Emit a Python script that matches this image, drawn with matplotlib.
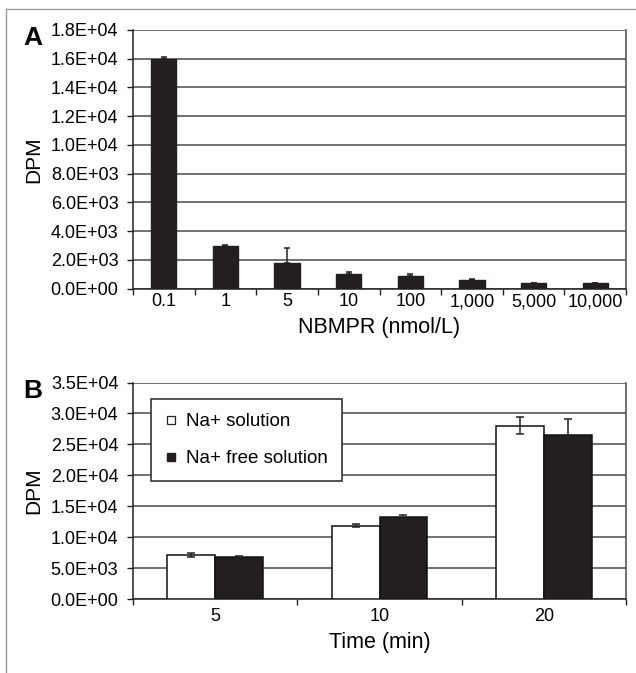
import matplotlib
matplotlib.use("Agg")
import matplotlib.pyplot as plt
import numpy as np
from matplotlib.lines import Line2D
from matplotlib.ticker import FuncFormatter, FixedLocator

plt.rcParams['font.family'] = ['Liberation Sans', 'DejaVu Sans']

# Panel A data
nbmpr_labels = ["0.1", "1", "5", "10", "100", "1,000", "5,000", "10,000"]
nbmpr_dpm = [16000, 2950, 1800, 1000, 900, 600, 350, 350]
nbmpr_err = [150, 100, 1000, 130, 130, 90, 20, 20]

# Panel B data
time_labels = ["5", "10", "20"]
na_solution = [7200, 11900, 28000]
na_solution_err = [300, 250, 1350]
na_free = [6800, 13350, 26600]
na_free_err = [200, 330, 2450]

W, H = 636, 673
fig = plt.figure(figsize=(W / 100, H / 100), dpi=100)

def fx(px):
    return px / W

def fy(py):
    return 1 - py / H

BAR = '#231f20'
GRID = '#4a4a4a'

def fmt_sci(v, pos):
    return format(v, '.1E')

def style_axes(ax, n, ymax, ystep, xpad):
    ax.set_xlim(-0.5, n - 0.5)
    ax.set_ylim(0, ymax)
    ax.yaxis.set_major_locator(FixedLocator(np.arange(0, ymax + 1, ystep)))
    ax.yaxis.set_major_formatter(FuncFormatter(fmt_sci))
    ax.set_axisbelow(True)
    ax.grid(axis='y', color=GRID, linewidth=1.1)
    ax.set_xticks(np.arange(n))
    ax.set_xticks(np.arange(n + 1) - 0.5, minor=True)
    ax.tick_params(axis='x', which='major', length=0, pad=xpad, labelsize=13)
    ax.tick_params(axis='x', which='minor', length=4, width=1.0, direction='out', color='#222')
    ax.tick_params(axis='y', length=4, width=1.0, direction='out', pad=6.5, labelsize=13, color='#222')
    for s in ['left', 'bottom']:
        ax.spines[s].set_color('#222')
        ax.spines[s].set_linewidth(1.1)
    ax.spines['right'].set_color(GRID)
    ax.spines['right'].set_linewidth(1.1)
    ax.spines['top'].set_visible(False)

# ---- Panel A ----
axA = fig.add_axes([fx(133), fy(288.5), fx(493), (288.5 - 30) / H])
xA = np.arange(len(nbmpr_labels))
axA.bar(xA, nbmpr_dpm, width=0.41, color=BAR, edgecolor=BAR, linewidth=1.0, zorder=3)
axA.errorbar(xA, nbmpr_dpm, yerr=[np.zeros(len(nbmpr_err)), nbmpr_err], fmt='none',
             ecolor='#222', elinewidth=1.1, capsize=2.5, capthick=1.1, zorder=4)
style_axes(axA, len(nbmpr_labels), 18000, 2000, 3.5)
axA.set_xticklabels(nbmpr_labels)
axA.set_xlabel("NBMPR (nmol/L)", fontsize=15.5, labelpad=5)
axA.set_ylabel("DPM", fontsize=15)
axA.yaxis.set_label_coords((43 - 133) / 493, 0.5)
fig.text(fx(23), fy(45), "A", fontsize=19, fontweight='bold', ha='left', va='baseline')

# ---- Panel B ----
axB = fig.add_axes([fx(133), fy(599.3), fx(493), (599.3 - 382.5) / H])
xB = np.arange(len(time_labels))
bw = 0.292
axB.bar(xB - bw / 2, na_solution, width=bw, color='white', edgecolor='#111', linewidth=1.1,
        zorder=3, label="Na+ solution")
axB.bar(xB + bw / 2, na_free, width=bw, color=BAR, edgecolor='#111', linewidth=1.1,
        zorder=3, label="Na+ free solution")
axB.errorbar(xB - bw / 2, na_solution, yerr=na_solution_err, fmt='none', ecolor='#222',
             elinewidth=1.1, capsize=3, capthick=1.1, zorder=4)
axB.errorbar(xB + bw / 2, na_free, yerr=na_free_err, fmt='none', ecolor='#222',
             elinewidth=1.1, capsize=3, capthick=1.1, zorder=4)
style_axes(axB, len(time_labels), 35000, 5000, 6.5)
axB.set_xticklabels(time_labels)
axB.set_xlabel("Time (min)", fontsize=15.5, labelpad=5)
axB.set_ylabel("DPM", fontsize=15)
axB.yaxis.set_label_coords((43 - 133) / 493, 0.5)
fig.text(fx(23), fy(398), "B", fontsize=19, fontweight='bold', ha='left', va='baseline')

handles = [
    Line2D([], [], marker='s', linestyle='none', markersize=6, markerfacecolor='white',
           markeredgecolor='#222', markeredgewidth=0.9),
    Line2D([], [], marker='s', linestyle='none', markersize=6, markerfacecolor=BAR,
           markeredgecolor=BAR),
]
leg = axB.legend(handles, ["Na+ solution", "Na+ free solution"], loc='upper left',
                 bbox_to_anchor=(18 / 493, 1 - 16.8 / 216.8), borderaxespad=0,
                 fontsize=13.5, frameon=True, fancybox=False, framealpha=1,
                 edgecolor='#222', handlelength=0.6, handletextpad=0.5,
                 labelspacing=1.05, borderpad=0.75)
leg.get_frame().set_linewidth(1.1)
leg.set_zorder(10)

# outer frame lines
fig.add_artist(Line2D([fx(6), fx(6)], [0, fy(8.5)], color='#9a9a9a', linewidth=1.0))
fig.add_artist(Line2D([fx(6), 1], [fy(8.5), fy(8.5)], color='#9a9a9a', linewidth=1.0))

fig.savefig("out.png", dpi=100)
